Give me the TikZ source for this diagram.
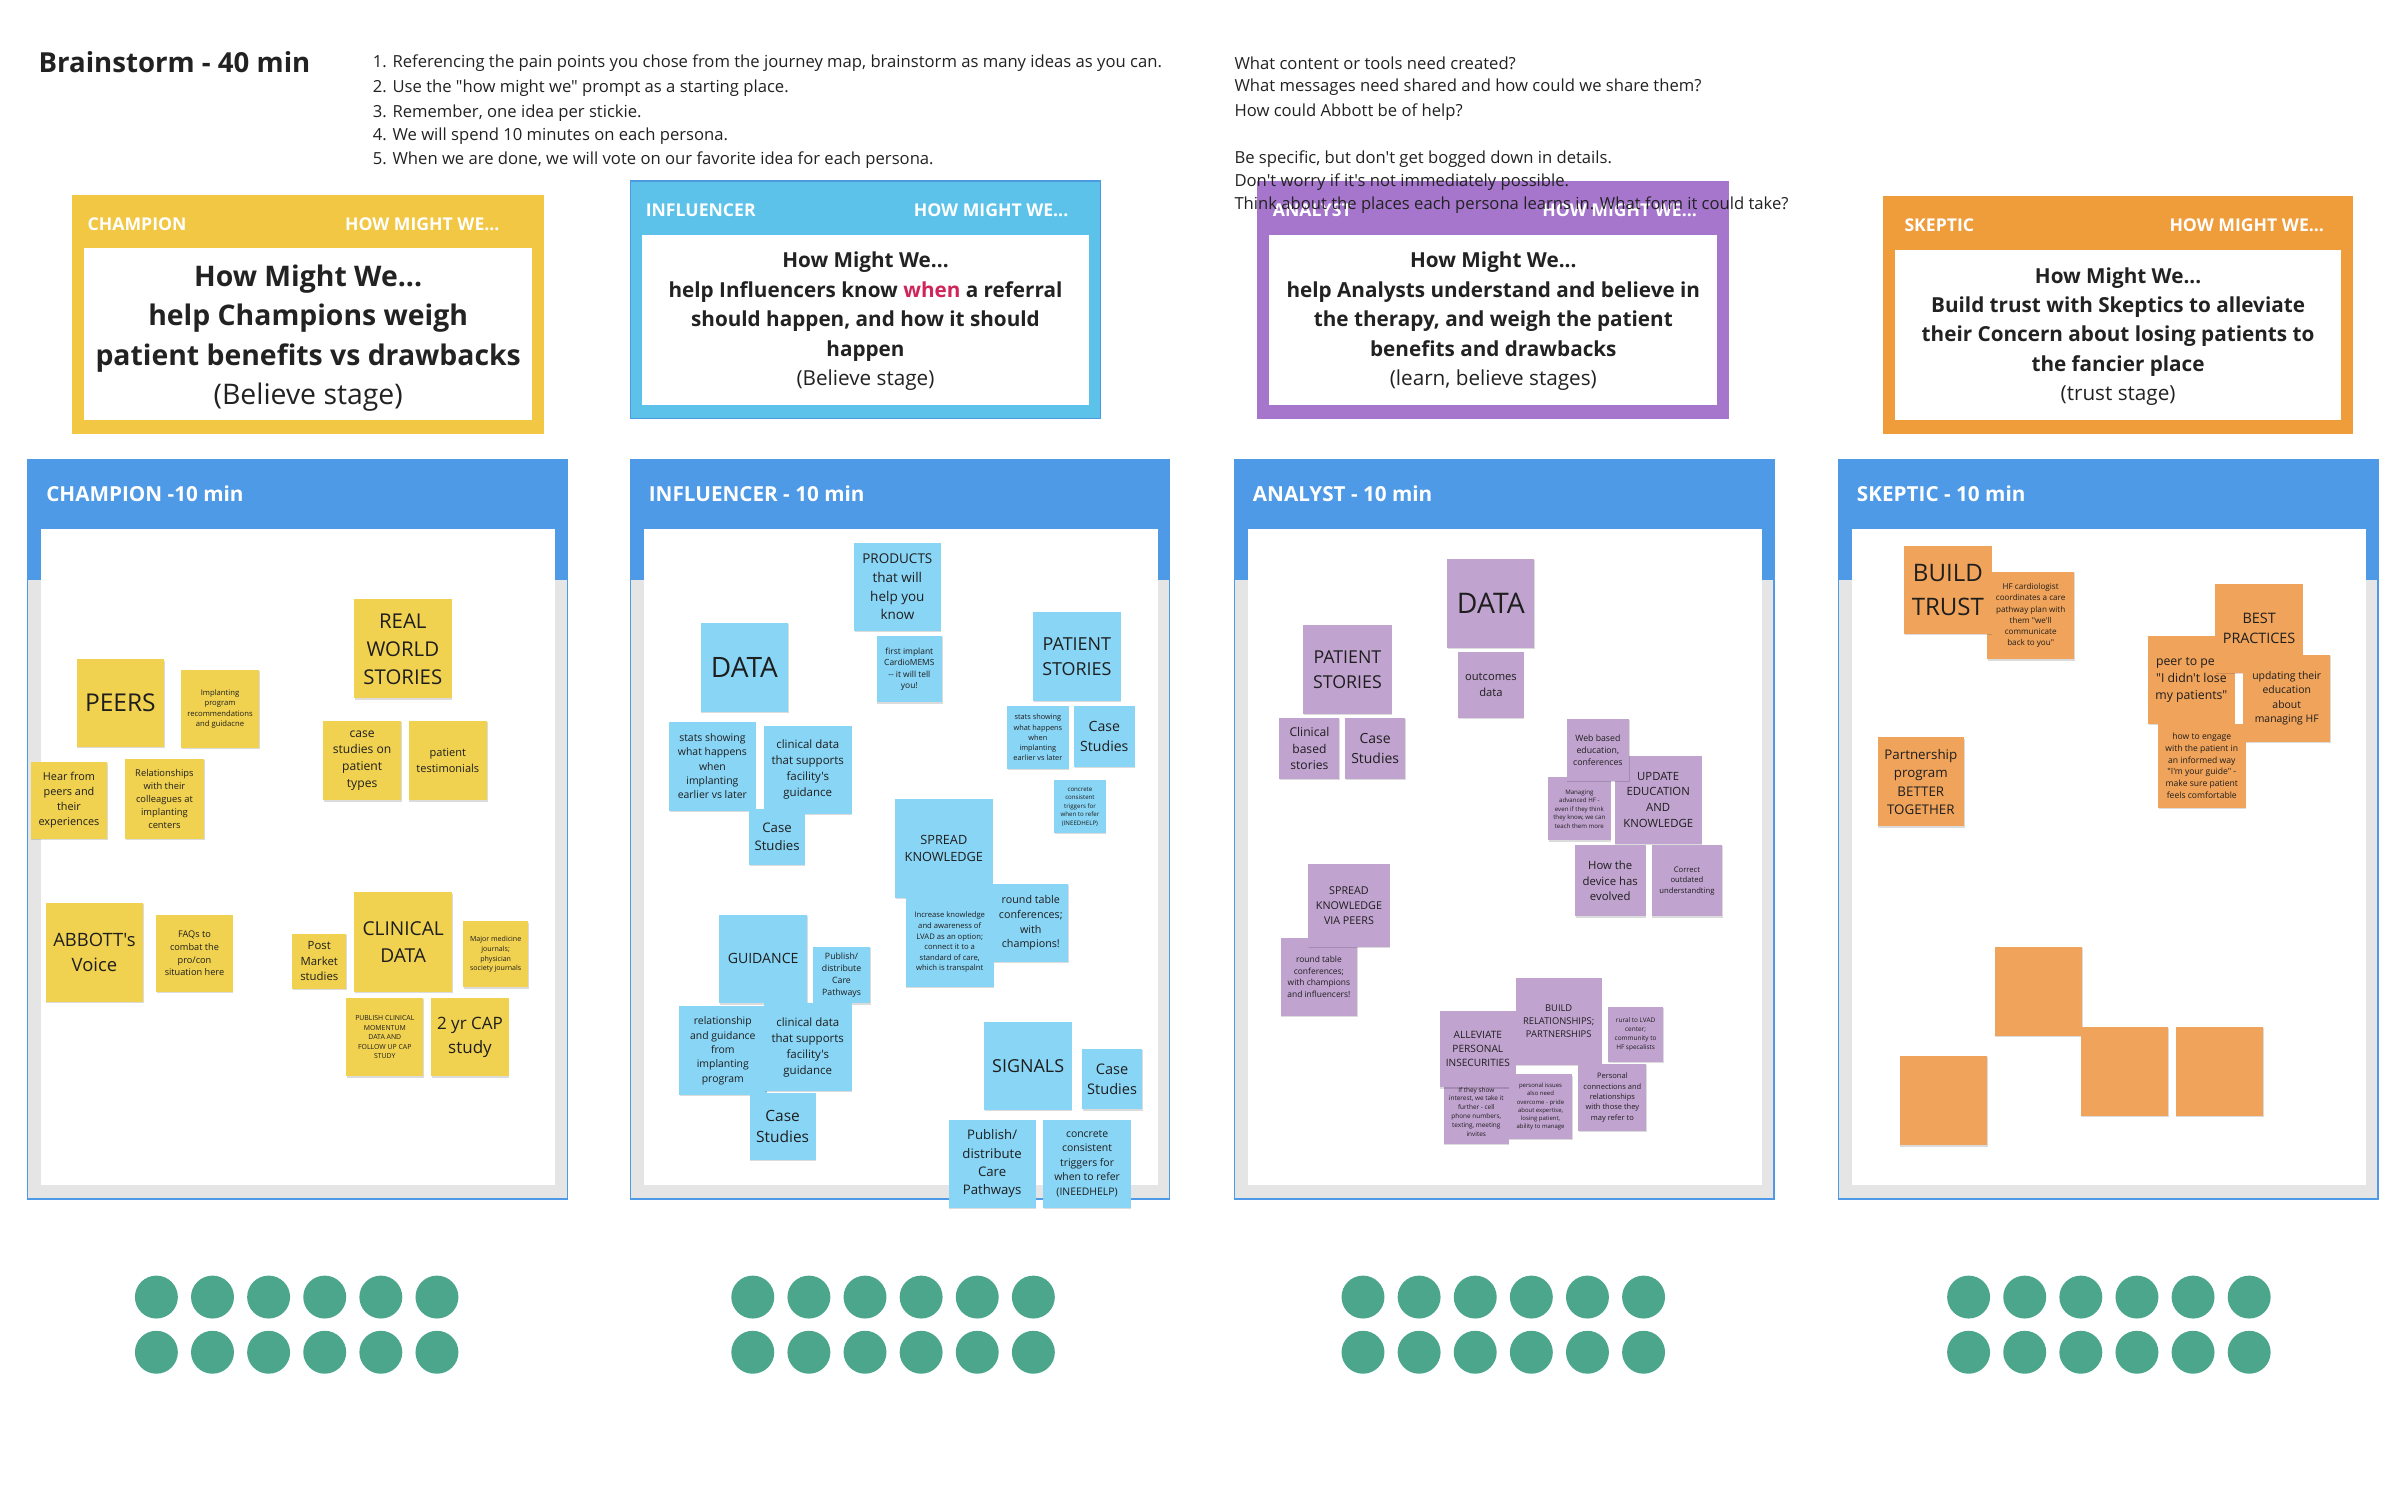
\documentclass[tikz,border=0pt]{standalone}
\usepackage{fontspec}
\setmainfont{Open Sans}[Ligatures=TeXOff]
\usetikzlibrary{shadows}
\definecolor{hmwY}{HTML}{F2C744}
\definecolor{hmwB}{HTML}{5CC2EA}
\definecolor{hmwBd}{HTML}{4C9BE0}
\definecolor{hmwP}{HTML}{A576CB}
\definecolor{hmwO}{HTML}{EF9C3B}
\definecolor{brdBlue}{HTML}{4E9AE6}
\definecolor{brdGray}{HTML}{E5E5E5}
\definecolor{stY}{HTML}{F1D250}
\definecolor{stB}{HTML}{89D5F5}
\definecolor{stP}{HTML}{C1A3D0}
\definecolor{stO}{HTML}{F0A35A}
\definecolor{stktext}{HTML}{1E1E1E}
\definecolor{inktext}{HTML}{222222}
\definecolor{dotG}{HTML}{4CA68B}
\definecolor{whenRed}{HTML}{D0245A}
\newcommand\stkfont[1]{\fontsize{#1}{\fpeval{round(1.38*#1,2)}}\selectfont}
\newcommand\stk[8]{%
  \node[stkbase,fill=#2,minimum width={(#5-#3)*1pt},minimum height={(#6-#4)*1pt},font=\stkfont{#7}] (#1) at ({(#3+#5)/2},{(#4+#6)/2}) {#8};}
\newcommand\brd[3]{%
  \filldraw[fill=brdGray,draw=brdBlue,line width=0.8pt] (#2,300) rectangle ({#2+352},782);
  \fill[brdBlue] (#2,300) rectangle ({#2+352},378);
  \fill[white] ({#2+9},345) rectangle ({#2+344},773);
  \node[brdlabel] (#1) at ({#2+12},322) {#3};}
\newcommand\votedots[1]{%
  \foreach \k in {0,...,5}{
    \fill[dotG] ({#1+\k*36.6},846) circle (14);
    \fill[dotG] ({#1+\k*36.6},882) circle (14);}}
\begin{document}
\begin{tikzpicture}[x=1pt,y=-1pt,
  stkbase/.style={rectangle,inner sep=0pt,align=center,text=stktext,
    drop shadow={shadow xshift=0.4pt,shadow yshift=-0.8pt,opacity=0.14,fill=black}},
  toptext/.style={anchor=west,inner sep=0pt,text=inktext,font=\fontsize{10.85}{14}\selectfont},
  hmwhead/.style={inner sep=0pt,text=white,font=\bfseries\fontsize{11.5}{14}\selectfont},
  hmwtext/.style={inner sep=0pt,align=center,text=inktext,font=\bfseries\fontsize{13.5}{19.2}\selectfont},
  brdlabel/.style={anchor=west,inner sep=0pt,text=white,font=\bfseries\fontsize{13.5}{16}\selectfont}]
\useasboundingbox (0,0) rectangle (1568,986);
\fill[white] (0,0) rectangle (1568,986);

% ---------- How Might We boxes ----------
\fill[hmwY] (47,127) rectangle (355,283);
\fill[white] (55,162) rectangle (347,274);
\node[hmwhead,anchor=west] (hc1) at (57,146) {CHAMPION};
\node[hmwhead,anchor=east] (hc2) at (326,146) {HOW MIGHT WE...};
\node[hmwtext,font=\bfseries\fontsize{18.5}{25.7}\selectfont] (hct) at (201,220.5) {How Might We...\\help Champions weigh\\patient benefits vs drawbacks\\{\mdseries (Believe stage)}};

\filldraw[fill=hmwB,draw=hmwBd,line width=0.8pt] (411,118) rectangle (718,273);
\fill[white] (419,153) rectangle (710,264);
\node[hmwhead,anchor=west] (hi1) at (421,137) {INFLUENCER};
\node[hmwhead,anchor=east] (hi2) at (697,137) {HOW MIGHT WE...};
\node[hmwtext] (hit) at (564.5,209.5) {How Might We...\\help Influencers know \textcolor{whenRed}{when} a referral\\should happen, and how it should\\happen\\{\mdseries (Believe stage)}};

\fill[hmwP] (820,118) rectangle (1128,273);
\fill[white] (828,153) rectangle (1120,264);
\node[hmwhead,anchor=west] (ha1) at (830,137) {ANALYST};
\node[hmwhead,anchor=east] (ha2) at (1107,137) {HOW MIGHT WE...};
\node[hmwtext] (hat) at (974,209.5) {How Might We...\\help Analysts understand and believe in\\the therapy, and weigh the patient\\benefits and drawbacks\\{\mdseries (learn, believe stages)}};

\fill[hmwO] (1228,128) rectangle (1535,283);
\fill[white] (1236,163) rectangle (1527,274);
\node[hmwhead,anchor=west] (hs1) at (1242,147) {SKEPTIC};
\node[hmwhead,anchor=east] (hs2) at (1516,147) {HOW MIGHT WE...};
\node[hmwtext] (hst) at (1381.5,219.5) {How Might We...\\Build trust with Skeptics to alleviate\\their Concern about losing patients to\\the fancier place\\{\mdseries (trust stage)}};

% ---------- top texts ----------
\node[anchor=west,inner sep=0pt,text=inktext,font=\bfseries\fontsize{18}{22}\selectfont] (title) at (25,40.5) {Brainstorm - 40 min};
\node[toptext] (in1) at (243,41.5) {1. Referencing the pain points you chose from the journey map, brainstorm as many ideas as you can.};
\node[toptext] (in2) at (243,57.5) {2. Use the "how might we" prompt as a starting place.};
\node[toptext] (in3) at (243,73.5) {3. Remember, one idea per stickie.};
\node[toptext] (in4) at (243,88.5) {4. We will spend 10 minutes on each persona.};
\node[toptext] (in5) at (243,104.5) {5. When we are done, we will vote on our favorite idea for each persona.};
\node[toptext] (q1) at (805,41) {What content or tools need created?};
\node[toptext] (q2) at (805,57) {What messages need shared and how could we share them?};
\node[toptext] (q3) at (805,73) {How could Abbott be of help?};
\node[toptext] (q4) at (805,104) {Be specific, but don't get bogged down in details.};
\node[toptext] (q5) at (805,119) {Don't worry if it's not immediately possible.};
\node[toptext] (q6) at (805,134) {Think about the places each persona learns in. What form it could take?};

% ---------- boards ----------
\brd{bc}{18}{CHAMPION -10 min}
\brd{bi}{411}{INFLUENCER - 10 min}
\brd{ba}{805}{ANALYST - 10 min}
\brd{bs}{1199}{SKEPTIC - 10 min}

% ---------- Champion stickies ----------
\stk{c1}{stY}{50}{430}{107}{487}{16}{PEERS}
\stk{c2}{stY}{118}{437}{169}{488}{5}{Implanting\\program\\recommendations\\and guidacne}
\stk{c3}{stY}{20}{497}{70}{547}{7.1}{Hear from\\peers and\\their\\experiences}
\stk{c4}{stY}{81.5}{495}{133}{547}{6.1}{Relationships\\with their\\colleagues at\\implanting\\centers}
\stk{c5}{stY}{231}{391}{294.5}{455.5}{13.3}{REAL\\WORLD\\STORIES}
\stk{c6}{stY}{210.6}{470}{261.8}{522}{7.9}{case\\studies on\\patient\\types}
\stk{c7}{stY}{266.5}{470}{317.7}{522}{7.2}{patient\\testimonials}
\stk{c8}{stY}{29.8}{589}{93.4}{653.4}{12}{ABBOTT's\\Voice}
\stk{c9}{stY}{102}{597}{151.7}{647}{6}{FAQs to\\combat the\\pro/con\\situation here}
\stk{c10}{stY}{190.5}{609}{226}{645}{7.4}{Post\\Market\\studies}
\stk{c11}{stY}{231}{582}{295}{647}{12.5}{CLINICAL\\DATA}
\stk{c12}{stY}{302}{601}{344.6}{644}{4.6}{Major medicine\\journals;\\physician\\society journals}
\stk{c13}{stY}{226}{651}{276}{702}{4.5}{PUBLISH CLINICAL\\MOMENTUM\\DATA AND\\FOLLOW UP CAP\\STUDY}
\stk{c14}{stY}{281.4}{651}{331.7}{702}{11.1}{2 yr CAP\\study}

% ---------- Influencer stickies ----------
\stk{i1}{stB}{557}{354.2}{613.6}{411.5}{8.8}{PRODUCTS\\that will\\help you\\know}
\stk{i2}{stB}{571.7}{414.9}{614.5}{458.1}{5.5}{first implant\\CardioMEMS\\-{}- it will tell\\you!}
\stk{i3}{stB}{457}{406.4}{514}{464.3}{18.3}{DATA}
\stk{i4}{stB}{673.8}{399.4}{731}{457.3}{11.7}{PATIENT\\STORIES}
\stk{i5}{stB}{656.8}{460.4}{697.1}{501.6}{4.8}{stats showing\\what happens\\when\\implanting\\earlier vs later}
\stk{i6}{stB}{700.6}{460.4}{740}{500}{9.2}{Case\\Studies}
\stk{i7}{stB}{687.5}{509}{721.3}{543.4}{4.0}{concrete\\consistent\\triggers for\\when to refer\\(INEEDHELP)}
\stk{i8}{stB}{436.3}{470.8}{493}{528.7}{6.8}{stats showing\\what happens\\when\\implanting\\earlier vs later}
\stk{i9}{stB}{498.3}{473.4}{555.4}{530.7}{7.5}{clinical data\\that supports\\facility's\\guidance}
\stk{i10}{stB}{488.8}{527.9}{524.9}{564}{8.6}{Case\\Studies}
\stk{i11}{stB}{583.8}{521}{647.4}{585.8}{8.3}{SPREAD\\KNOWLEDGE}
\stk{i12}{stB}{590.8}{585.8}{648.1}{643.6}{5.0}{Increase knowledge\\and awareness of\\LVAD as an option;\\connect it to a\\standard of care,\\which is transpalnt}
\stk{i13}{stB}{647.9}{576.7}{696.8}{627.3}{7.0}{round table\\conferences;\\with\\champions!}
\stk{i14}{stB}{469.2}{596.5}{526.3}{654.4}{9.2}{GUIDANCE}
\stk{i15}{stB}{530.3}{617.4}{567.5}{654.4}{5.7}{Publish/\\distribute\\Care\\Pathways}
\stk{i16}{stB}{442.9}{656.4}{500}{714.3}{6.8}{relationship\\and guidance\\from\\implanting\\program}
\stk{i17}{stB}{498.3}{654.4}{555.4}{711.7}{7.5}{clinical data\\that supports\\facility's\\guidance}
\stk{i18}{stB}{489}{712.8}{531.9}{756.6}{10.1}{Case\\Studies}
\stk{i19}{stB}{642.1}{666.8}{699.1}{724.1}{11.7}{SIGNALS}
\stk{i20}{stB}{705.7}{684}{745}{723.6}{9.5}{Case\\Studies}
\stk{i21}{stB}{618.8}{730.3}{675.4}{787.7}{8.6}{Publish/\\distribute\\Care\\Pathways}
\stk{i22}{stB}{680.5}{730.3}{737.6}{787.7}{6.8}{concrete\\consistent\\triggers for\\when to refer\\(INEEDHELP)}

% ---------- Analyst stickies ----------
\stk{a1}{stP}{944}{364.6}{1000.8}{422.4}{18.5}{DATA}
\stk{a2}{stP}{951}{425.2}{993.9}{468.3}{7.3}{outcomes\\data}
\stk{a3}{stP}{850.1}{407.7}{907.6}{465.7}{11.6}{PATIENT\\STORIES}
\stk{a4}{stP}{834.5}{468.3}{873.6}{508.2}{7.9}{Clinical\\based\\stories}
\stk{a5}{stP}{877.4}{468.3}{916.5}{508.2}{9.1}{Case\\Studies}
\stk{a6}{stP}{1009.7}{507}{1050.5}{548.2}{4.0}{Managing\\advanced HF -\\even if they think\\they know, we can\\teach them more}
\stk{a7}{stP}{1053.2}{492.8}{1109.9}{550.3}{7.4}{UPDATE\\EDUCATION\\AND\\KNOWLEDGE}
\stk{a8}{stP}{1021.8}{468.8}{1062.6}{509.5}{5.7}{Web based\\education,\\conferences}
\stk{a9}{stP}{1027.2}{551.3}{1073.3}{597.7}{7.4}{How the\\device has\\evolved}
\stk{a10}{stP}{1077.2}{551.3}{1123.4}{597.7}{5.0}{Correct\\outdated\\understandting}
\stk{a11}{stP}{835.4}{612.1}{885.1}{662.4}{5.5}{round table\\conferences;\\with champions\\and influencers!}
\stk{a12}{stP}{853.2}{563.7}{906.5}{617.8}{7.0}{SPREAD\\KNOWLEDGE\\VIA PEERS}
\stk{a13}{stP}{988.7}{637.9}{1044.6}{694.6}{6.1}{BUILD\\RELATIONSHIPS;\\PARTNERSHIPS}
\stk{a14}{stP}{1048.9}{656.5}{1084.7}{692.6}{4.2}{rural to LVAD\\center;\\community to\\HF specalists}
\stk{a15}{stP}{941.7}{704.2}{984.1}{746.2}{4.2}{If they show\\interest, we take it\\further - cell\\phone numbers,\\texting, meeting\\invites}
\stk{a16}{stP}{939.1}{659.1}{988.7}{709.3}{6.6}{ALLEVIATE\\PERSONAL\\INSECURITIES}
\stk{a17}{stP}{984.1}{700.8}{1025.5}{742.9}{3.9}{personal issues\\also need\\overcome - pride\\about expertise,\\losing patient,\\ability to manage}
\stk{a18}{stP}{1029.5}{693.9}{1073.8}{737.7}{4.9}{Personal\\connections and\\relationships\\with those they\\may refer to}

% ---------- Skeptic stickies ----------
\stk{s1}{stO}{1296}{373}{1353}{430}{5.3}{HF cardiologist\\coordinates a care\\pathway plan with\\them "we'll\\communicate\\back to you"}
\stk{s2}{stO}{1242}{356}{1299}{413.6}{15.7}{BUILD\\TRUST}
\stk{s3}{stO}{1401}{415}{1457.6}{472}{8.0}{peer to peer\\"I didn't lose\\my patients"}
\stk{s4}{stO}{1445}{381}{1502}{439}{9.4}{BEST\\PRACTICES}
\stk{s5}{stO}{1463}{427}{1520}{484}{6.8}{updating their\\education\\about\\managing HF}
\stk{s6}{stO}{1407.6}{472}{1464.6}{527}{5.6}{how to engage\\with the patient in\\an informed way\\"I'm your guide" -\\make sure patient\\feels comfortable}
\stk{s7}{stO}{1224.7}{481}{1281}{539}{8.7}{Partnership\\program\\BETTER\\TOGETHER}
\stk{s8}{stO}{1301}{617.5}{1358}{675.7}{8}{}
\stk{s9}{stO}{1357}{669.6}{1414}{728}{8}{}
\stk{s10}{stO}{1419}{669.6}{1476}{728}{8}{}
\stk{s11}{stO}{1239}{688.6}{1296}{747}{8}{}

% ---------- voting dots ----------
\votedots{102}
\votedots{491}
\votedots{889}
\votedots{1284}
\end{tikzpicture}
\end{document}
